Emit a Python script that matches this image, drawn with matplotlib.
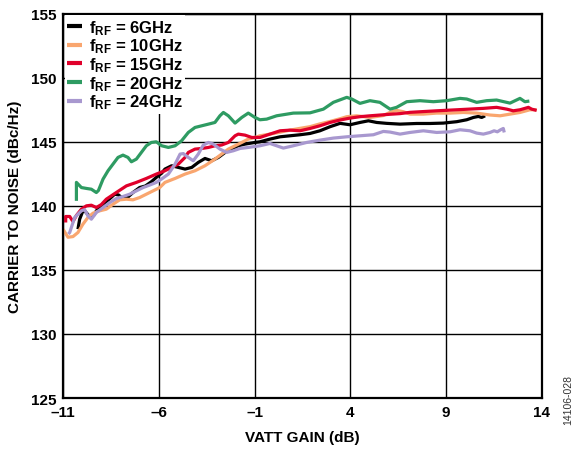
import matplotlib
matplotlib.use("Agg")
import matplotlib.pyplot as plt

plt.rcParams['font.family'] = ['Liberation Sans', 'DejaVu Sans']
plt.rcParams['font.weight'] = 'bold'
plt.rcParams['mathtext.fontset'] = 'custom'
plt.rcParams['mathtext.bf'] = 'Liberation Sans:bold'
plt.rcParams['mathtext.rm'] = 'Liberation Sans:bold'
plt.rcParams['mathtext.it'] = 'Liberation Sans:bold'

# ---------------- data ----------------
x_6 = [-10.22, -10.13, -9.96, -9.87, -9.61, -9.40, -9.26, -8.91, -8.60, -8.30, -8.10, -7.87,
       -7.60, -7.35, -7.00, -6.70, -6.39, -6.13, -5.85, -5.68, -5.33, -4.98, -4.63, -4.28,
       -3.94, -3.59, -3.24, -2.89, -2.54, -2.20, -1.85, -1.50, -0.98, -0.72, -0.20, 0.33,
       0.85, 1.37, 1.89, 2.41, 2.94, 3.46, 3.98, 4.50, 4.94, 5.37, 5.89, 6.59, 7.46, 8.15,
       8.85, 9.55, 10.07, 10.42, 10.68, 10.85, 11.03]
y_6 = [138.18, 138.96, 139.61, 139.61, 139.17, 139.25, 139.61, 140.13, 140.50, 140.91, 140.85, 140.55,
       140.70, 141.04, 141.43, 141.55, 141.88, 142.22, 142.55, 142.87, 143.13, 143.00, 142.87, 143.00,
       143.39, 143.70, 143.52, 143.78, 144.17, 144.43, 144.69, 144.82, 144.95, 145.00, 145.21, 145.39,
       145.47, 145.55, 145.65, 145.86, 146.18, 146.44, 146.33, 146.51, 146.64, 146.51, 146.44, 146.38,
       146.43, 146.43, 146.46, 146.57, 146.72, 146.90, 146.98, 146.90, 147.03]

x_10 = [-11.00, -10.74, -10.48, -10.22, -9.96, -9.70, -9.43, -9.09, -8.74, -8.39, -8.04, -7.69,
        -7.35, -7.00, -6.65, -6.30, -5.95, -5.68, -5.15, -4.63, -4.11, -3.59, -3.07, -2.72,
        -2.37, -2.02, -1.67, -1.33, -0.98, -0.72, -0.20, 0.33, 0.85, 1.37, 1.89, 2.41,
        2.94, 3.46, 3.81, 4.33, 5.02, 5.72, 6.07, 6.41, 6.76, 7.11, 7.81, 8.50, 9.20, 9.89,
        10.59, 11.29, 11.81, 12.33, 12.85, 13.37, 13.72]
y_10 = [138.18, 137.55, 137.60, 137.92, 138.57, 139.09, 139.43, 139.61, 139.74, 140.13, 140.47, 140.52,
        140.47, 140.65, 140.91, 141.17, 141.43, 141.83, 142.14, 142.48, 142.74, 143.13, 143.65, 144.04,
        144.43, 144.69, 144.95, 145.21, 145.34, 145.47, 145.60, 145.75, 145.91, 146.05, 146.18, 146.40,
        146.59, 146.80, 146.96, 147.03, 146.90, 147.05, 147.30, 147.45, 147.35, 147.16, 147.16, 147.24,
        147.24, 147.29, 147.24, 147.09, 147.03, 147.16, 147.29, 147.50, 147.50]

x_15 = [-10.86, -10.86, -10.65, -10.48, -10.30, -10.04, -9.78, -9.52, -9.26, -9.00, -8.74, -8.22,
        -7.69, -7.17, -6.65, -6.13, -5.68, -5.33, -4.98, -4.63, -4.46, -4.11, -3.76, -3.41,
        -3.07, -2.72, -2.37, -2.02, -1.85, -1.50, -1.15, -0.72, -0.20, 0.33, 0.85, 1.37,
        1.89, 2.41, 2.94, 3.46, 3.98, 4.50, 5.02, 5.55, 6.07, 6.59, 7.11, 8.50, 9.55, 10.94,
        11.63, 12.16, 12.50, 12.85, 13.11, 13.29, 13.46, 13.72]
y_15 = [138.70, 139.17, 139.17, 138.78, 139.25, 139.74, 140.00, 140.05, 139.87, 140.10, 140.52, 141.04,
        141.56, 141.83, 142.14, 142.48, 142.74, 143.00, 143.26, 143.78, 144.17, 144.43, 144.48, 144.56,
        144.69, 144.75, 144.95, 145.47, 145.60, 145.52, 145.34, 145.34, 145.60, 145.86, 145.91, 145.86,
        146.04, 146.25, 146.51, 146.70, 146.85, 146.96, 147.03, 147.09, 147.15, 147.20, 147.30, 147.42,
        147.50, 147.61, 147.69, 147.55, 147.42, 147.50, 147.61, 147.69, 147.55, 147.45]

x_20 = [-10.30, -10.30, -10.04, -9.78, -9.52, -9.26, -9.15, -8.91, -8.65, -8.39, -8.13, -7.87,
        -7.61, -7.43, -7.17, -6.91, -6.65, -6.39, -6.13, -5.85, -5.50, -5.15, -4.81, -4.46,
        -4.11, -3.76, -3.41, -3.07, -2.81, -2.63, -2.37, -2.02, -1.67, -1.33, -0.98, -0.72,
        -0.37, 0.15, 1.02, 1.89, 2.59, 3.11, 3.81, 4.07, 4.50, 5.02, 5.54, 6.07, 6.41, 6.94,
        7.63, 8.33, 9.02, 9.72, 10.07, 10.59, 11.11, 11.63, 12.33, 12.85, 13.11, 13.34]
y_20 = [140.39, 141.83, 141.43, 141.36, 141.30, 141.04, 141.20, 142.09, 142.74, 143.26, 143.78, 143.96,
        143.78, 143.44, 143.65, 144.17, 144.69, 144.95, 145.00, 144.69, 144.56, 144.69, 145.08, 145.73,
        146.12, 146.25, 146.38, 146.51, 147.03, 147.29, 147.03, 146.46, 146.90, 147.24, 146.90, 146.72,
        146.77, 147.03, 147.24, 147.26, 147.55, 148.08, 148.47, 148.34, 148.00, 148.21, 148.08, 147.55,
        147.69, 148.13, 148.21, 148.13, 148.21, 148.39, 148.34, 148.08, 148.21, 148.26, 148.02, 148.39,
        148.13, 148.18]

x_24 = [-10.72, -10.65, -10.50, -10.39, -10.22, -10.04, -9.87, -9.70, -9.52, -9.26, -8.91, -8.56,
        -8.22, -7.87, -7.52, -7.17, -6.82, -6.48, -6.13, -5.85, -5.50, -5.15, -4.89, -4.72,
        -4.46, -4.20, -3.94, -3.68, -3.41, -3.15, -2.81, -2.46, -2.11, -1.76, -1.33, -0.72,
        -0.20, 0.50, 1.02, 1.72, 2.41, 3.11, 3.81, 4.50, 5.20, 5.72, 6.07, 6.59, 7.11, 7.81,
        8.50, 9.20, 9.72, 10.24, 10.59, 10.94, 11.29, 11.50, 11.67, 11.84, 11.98, 12.03]
y_24 = [137.80, 137.92, 138.60, 139.09, 139.35, 139.61, 139.70, 139.22, 138.96, 139.48, 139.87, 140.26,
        140.57, 140.73, 140.91, 141.17, 141.43, 141.62, 141.83, 142.10, 142.48, 143.26, 144.04, 144.08,
        143.78, 143.52, 144.04, 144.74, 144.95, 144.82, 144.43, 144.17, 144.30, 144.48, 144.56, 144.69,
        144.87, 144.51, 144.69, 144.95, 145.13, 145.29, 145.39, 145.47, 145.55, 145.81, 145.76, 145.60,
        145.73, 145.86, 145.73, 145.78, 145.94, 145.86, 145.68, 145.60, 145.73, 145.86, 145.78, 145.94,
        146.04, 145.73]

labels = [r'$\mathbf{f}_{\mathbf{RF}}$ = 6GHz', r'$\mathbf{f}_{\mathbf{RF}}$ = 10GHz',
          r'$\mathbf{f}_{\mathbf{RF}}$ = 15GHz', r'$\mathbf{f}_{\mathbf{RF}}$ = 20GHz',
          r'$\mathbf{f}_{\mathbf{RF}}$ = 24GHz']
colors = ['#000000', '#F9A66F', '#E0002B', '#2E9B62', '#A898CF']

x_ticks = [-11, -6, -1, 4, 9, 14]
x_tick_labels = ['\u201311', '\u20136', '\u20131', '4', '9', '14']
y_ticks = [125, 130, 135, 140, 145, 150, 155]

# ---------------- plot ----------------
fig = plt.figure(figsize=(5.8, 4.52), dpi=100)
ax = fig.add_axes([63/580, 1-399/452, (542-63)/580, (399-14.7)/452])

series = [(x_6, y_6), (x_10, y_10), (x_15, y_15), (x_20, y_20), (x_24, y_24)]
for (xs, ys), c, lab in zip(series, colors, labels):
    ax.plot(xs, ys, color=c, lw=2.3, label=lab, solid_capstyle='butt', solid_joinstyle='round')

ax.set_xlim(-11, 14)
ax.set_ylim(125, 155)
ax.set_xticks(x_ticks)
ax.set_xticklabels(x_tick_labels)
ax.set_yticks(y_ticks)
ax.tick_params(length=0, labelsize=11, pad=5)
for t in ax.get_xticklabels() + ax.get_yticklabels():
    t.set_fontweight('bold')
ax.grid(True, color='black', lw=1.0)
ax.set_axisbelow(True)
for s in ax.spines.values():
    s.set_linewidth(1.6)

ax.set_xlabel('VATT GAIN (dB)', fontsize=11, fontweight='bold', labelpad=8)
ax.set_ylabel('CARRIER TO NOISE (dBc/Hz)', fontsize=11, fontweight='bold', labelpad=6)

leg = ax.legend(loc='upper left', bbox_to_anchor=(0.0, 1.0), fontsize=12,
                frameon=True, fancybox=False, framealpha=1, edgecolor='none',
                handlelength=0.9, handletextpad=0.4, labelspacing=0.0,
                borderpad=0.15, borderaxespad=0.1)
for line in leg.get_lines():
    line.set_linewidth(3)

fig.text(0.979, 0.115, '14106-028', rotation=90, fontsize=7.5, fontweight='normal',
         color='#333333', ha='center', va='center')

fig.savefig('out.png', dpi=100)
